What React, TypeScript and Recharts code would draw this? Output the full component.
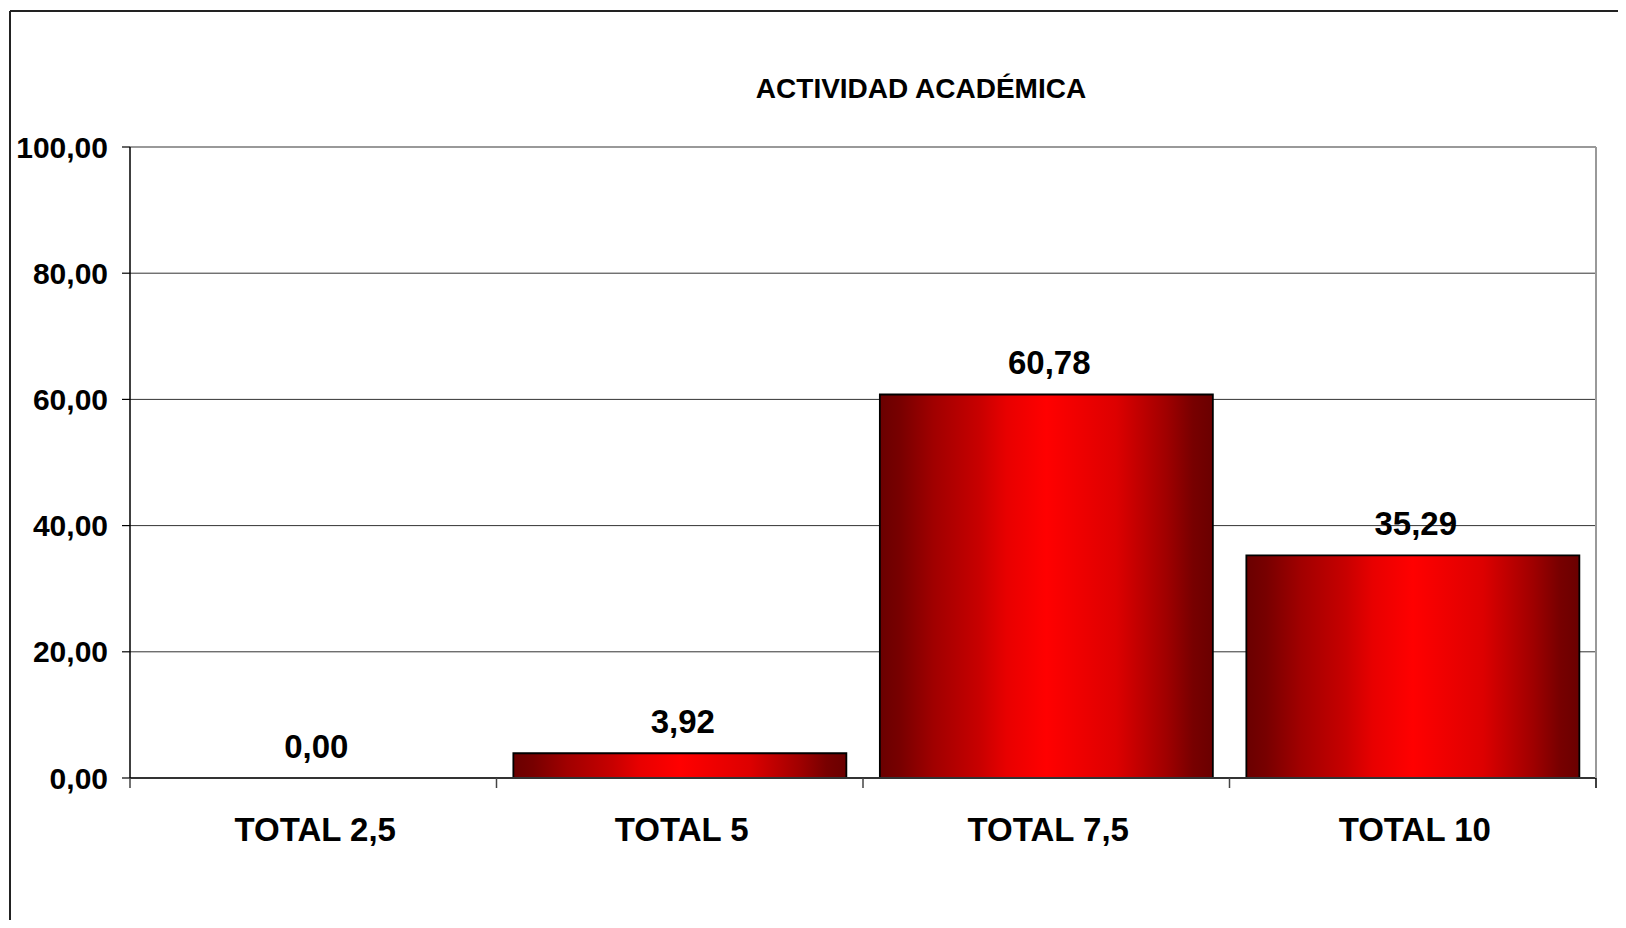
import React from "react";
import { ComposedChart, Bar, Line, XAxis, YAxis, CartesianGrid, LabelList, ReferenceLine } from "recharts";

const categories = ["TOTAL 2,5", "TOTAL 5", "TOTAL 7,5", "TOTAL 10"];
const values = [0, 3.92, 60.78, 35.29];
const yTicks = [0, 20, 40, 60, 80, 100];
const title = "ACTIVIDAD ACADÉMICA";

const data = categories.map((c, i) => ({ name: c, value: values[i] }));

const FONT = "'Liberation Sans', Arial, Helvetica, sans-serif";
const fmt = (v: number) => Number(v).toFixed(2).replace(".", ",");

const renderValueLabel = (props: any) => {
  const { x, y, value } = props;
  return (
    <text
      x={Number(x) + 3}
      y={Number(y) - 20}
      textAnchor="middle"
      fontSize={33}
      fontWeight={700}
      fontFamily={FONT}
      fill="#000"
    >
      {fmt(value)}
    </text>
  );
};

const CategoryTick = (props: any) => {
  const { x, y, payload, index } = props;
  const off = payload && payload.offset ? Number(payload.offset) : 0;
  const last = index === categories.length - 1;
  return (
    <g>
      <line x1={x - off} y1={y} x2={x - off} y2={y + 10} stroke="#444" strokeWidth={1.5} />
      {last && <line x1={x + off} y1={y} x2={x + off} y2={y + 10} stroke="#000" strokeWidth={1.5} />}
      <text
        x={x + 2}
        y={y + 63}
        textAnchor="middle"
        fontSize={33}
        fontWeight={700}
        fontFamily={FONT}
        fill="#000"
      >
        {payload.value}
      </text>
    </g>
  );
};

export default function App() {
  const W = 1610;
  const H = 912;
  return (
    <div style={{ position: "relative", width: W, height: H, fontFamily: FONT }}>
      <ComposedChart
        width={W}
        height={H}
        data={data}
        margin={{ top: 139, right: 21, bottom: 141, left: 121 }}
        barCategoryGap="4.6%"
      >
        <defs>
          <linearGradient id="barGrad" x1="0" y1="0" x2="1" y2="0">
            <stop offset="0%" stopColor="#6a0000" />
            <stop offset="6%" stopColor="#780000" />
            <stop offset="16%" stopColor="#a00000" />
            <stop offset="30%" stopColor="#c80000" />
            <stop offset="38%" stopColor="#e80000" />
            <stop offset="50%" stopColor="#ff0000" />
            <stop offset="71%" stopColor="#dd0000" />
            <stop offset="86%" stopColor="#a00000" />
            <stop offset="94%" stopColor="#780000" />
            <stop offset="100%" stopColor="#6a0000" />
          </linearGradient>
        </defs>
        <CartesianGrid xAxisId="cat" yAxisId="left" vertical={false} stroke="#333" strokeWidth={1} />
        <XAxis
          xAxisId="cat"
          dataKey="name"
          height={1}
          axisLine={{ stroke: "#333", strokeWidth: 2 }}
          tickLine={false}
          tickSize={0}
          tickMargin={0}
          interval={0}
          tick={<CategoryTick />}
        />
        <YAxis
          yAxisId="left"
          domain={[0, 100]}
          ticks={yTicks}
          width={1}
          tickSize={8}
          tickMargin={14}
          tickFormatter={fmt}
          axisLine={{ stroke: "#000", strokeWidth: 1.5 }}
          tickLine={{ stroke: "#000", strokeWidth: 1.2 }}
          tick={{ fill: "#000", fontSize: 30, fontWeight: 700, fontFamily: FONT }}
        />
        <YAxis
          yAxisId="right"
          orientation="right"
          domain={[0, 100]}
          width={1}
          tick={false}
          tickLine={false}
          axisLine={{ stroke: "#999", strokeWidth: 2 }}
        />
        <ReferenceLine yAxisId="left" xAxisId="cat" y={100} stroke="#999" strokeWidth={2} />
        <Bar
          dataKey="value"
          xAxisId="cat"
          yAxisId="left"
          fill="url(#barGrad)"
          stroke="#000"
          strokeWidth={1.8}
          isAnimationActive={false}
        />
        <Line
          dataKey="value"
          xAxisId="cat"
          yAxisId="left"
          stroke="none"
          dot={false}
          activeDot={false}
          isAnimationActive={false}
        >
          <LabelList dataKey="value" position="top" content={renderValueLabel} />
        </Line>
      </ComposedChart>
      <svg
        width={1618}
        height={920}
        style={{ position: "absolute", left: 0, top: 0, pointerEvents: "none", overflow: "visible" }}
      >
        <line x1={2} y1={3} x2={1700} y2={3} stroke="#222" strokeWidth={2} />
        <line x1={2} y1={3} x2={2} y2={1000} stroke="#222" strokeWidth={2} />
        <text
          x={913}
          y={90}
          textAnchor="middle"
          fontSize={28}
          fontWeight={700}
          fontFamily={FONT}
          fill="#000"
        >
          {title}
        </text>
      </svg>
    </div>
  );
}
